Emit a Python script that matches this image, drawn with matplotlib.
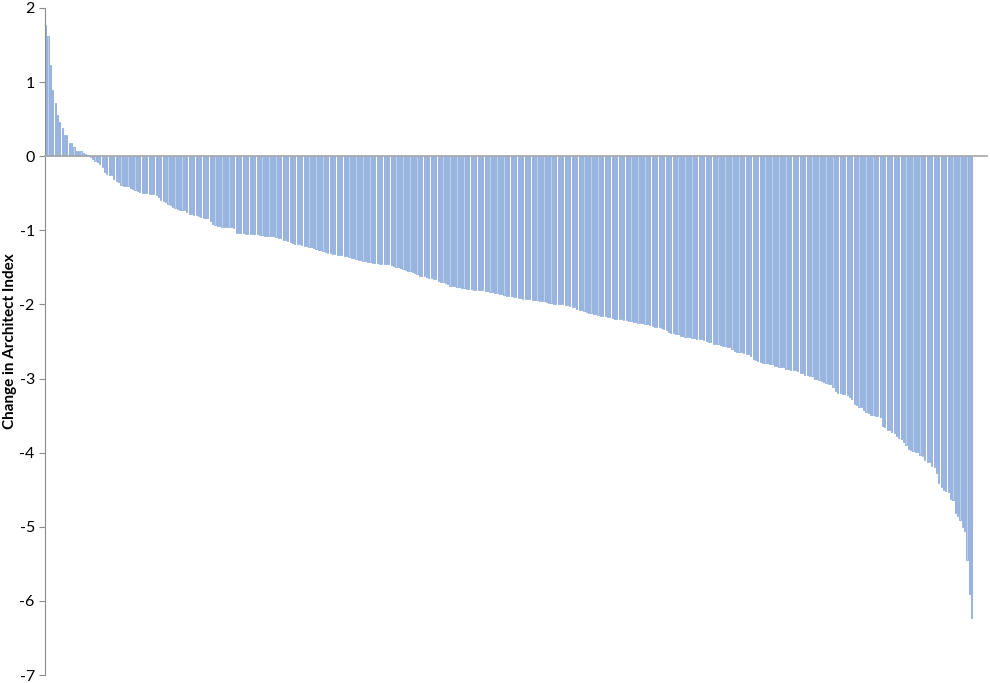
import matplotlib.pyplot as plt
import numpy as np

plt.rcParams['axes.unicode_minus'] = False
plt.rcParams['font.family'] = ['Lato', 'DejaVu Sans']

# change in index per item, sorted from largest to smallest
positive_vals = [1.77, 1.62, 1.23, 0.90, 0.72, 0.555, 0.46, 0.38, 0.29, 0.28,
                 0.175, 0.175, 0.125, 0.077, 0.072, 0.068, 0.05, 0.03, 0.01]
negative_vals = [
    -0.01, -0.04, -0.06, -0.08, -0.11, -0.15, -0.21, -0.24, -0.25, -0.26,
    -0.31, -0.33, -0.35, -0.39, -0.40, -0.40, -0.405, -0.43, -0.44, -0.45,
    -0.47, -0.48, -0.49, -0.495, -0.50, -0.505, -0.51, -0.51, -0.53, -0.55,
    -0.59, -0.60, -0.62, -0.64, -0.66, -0.69, -0.70, -0.715, -0.72, -0.72,
    -0.72, -0.75, -0.78, -0.785, -0.79, -0.795, -0.80, -0.82, -0.83, -0.84,
    -0.84, -0.88, -0.91, -0.93, -0.94, -0.945, -0.95, -0.95, -0.955, -0.96,
    -0.96, -0.97, -1.03, -1.035, -1.04, -1.04, -1.045, -1.045, -1.045, -1.05,
    -1.05, -1.05, -1.06, -1.065, -1.07, -1.07, -1.075, -1.08, -1.08, -1.09,
    -1.10, -1.11, -1.125, -1.135, -1.15, -1.16, -1.17, -1.18, -1.185, -1.19,
    -1.20, -1.21, -1.215, -1.225, -1.23, -1.24, -1.25, -1.26, -1.27, -1.28,
    -1.29, -1.30, -1.31, -1.315, -1.325, -1.33, -1.335, -1.335, -1.34, -1.35,
    -1.355, -1.37, -1.375, -1.39, -1.40, -1.405, -1.41, -1.42, -1.425, -1.43,
    -1.435, -1.44, -1.445, -1.45, -1.45, -1.45, -1.455, -1.46, -1.465, -1.48,
    -1.49, -1.50, -1.51, -1.52, -1.53, -1.545, -1.55, -1.565, -1.58, -1.59,
    -1.61, -1.615, -1.62, -1.63, -1.64, -1.645, -1.655, -1.66, -1.69, -1.695,
    -1.70, -1.705, -1.72, -1.745, -1.75, -1.755, -1.76, -1.77, -1.775, -1.78,
    -1.785, -1.79, -1.795, -1.80, -1.80, -1.80, -1.805, -1.81, -1.815, -1.825,
    -1.83, -1.835, -1.84, -1.845, -1.855, -1.865, -1.87, -1.88, -1.885, -1.89,
    -1.90, -1.905, -1.91, -1.915, -1.92, -1.925, -1.93, -1.93, -1.935, -1.94,
    -1.945, -1.95, -1.955, -1.96, -1.97, -1.975, -1.98, -1.99, -1.995, -2.00,
    -2.00, -2.00, -2.005, -2.01, -2.015, -2.03, -2.04, -2.055, -2.07, -2.08,
    -2.09, -2.10, -2.11, -2.12, -2.13, -2.135, -2.145, -2.155, -2.16, -2.16,
    -2.165, -2.17, -2.18, -2.19, -2.195, -2.20, -2.20, -2.21, -2.215, -2.22,
    -2.23, -2.235, -2.24, -2.245, -2.25, -2.255, -2.26, -2.27, -2.28, -2.29,
    -2.30, -2.305, -2.31, -2.32, -2.33, -2.35, -2.37, -2.38, -2.39, -2.395,
    -2.40, -2.42, -2.43, -2.435, -2.44, -2.445, -2.45, -2.455, -2.46, -2.465,
    -2.47, -2.48, -2.49, -2.50, -2.51, -2.53, -2.535, -2.54, -2.55, -2.56,
    -2.565, -2.57, -2.58, -2.60, -2.63, -2.635, -2.64, -2.64, -2.65, -2.665,
    -2.67, -2.69, -2.74, -2.75, -2.76, -2.78, -2.785, -2.79, -2.79, -2.80,
    -2.81, -2.825, -2.83, -2.84, -2.845, -2.85, -2.865, -2.87, -2.88, -2.885,
    -2.89, -2.90, -2.92, -2.93, -2.95, -2.955, -2.96, -2.97, -3.00, -3.01,
    -3.02, -3.03, -3.05, -3.06, -3.07, -3.08, -3.12, -3.17, -3.19, -3.20,
    -3.21, -3.21, -3.22, -3.25, -3.28, -3.34, -3.36, -3.38, -3.39, -3.42,
    -3.45, -3.47, -3.49, -3.49, -3.50, -3.51, -3.52, -3.64, -3.66, -3.69,
    -3.70, -3.72, -3.73, -3.78, -3.80, -3.81, -3.85, -3.89, -3.945, -3.96,
    -3.98, -3.99, -3.99, -4.03, -4.04, -4.10, -4.12, -4.13, -4.18, -4.20,
    -4.28, -4.41, -4.46, -4.51, -4.52, -4.53, -4.63, -4.64, -4.82, -4.86,
    -4.91, -5.00, -5.06, -5.45, -5.91, -6.23,
]
values = positive_vals + negative_vals
y_ticks = list(range(-7, 3))

fig = plt.figure(figsize=(9.9, 6.83), dpi=100)
ax = fig.add_axes([0.045, 0.0117, 0.952, 0.9766])

x = np.arange(len(values))
ax.bar(x, values, width=0.5, color='#BCD0EE', edgecolor='#7B9FD5', linewidth=0.5)

ax.set_ylim(-7, 2)
ax.set_xlim(-0.5, 400.5)
ax.set_yticks(y_ticks)
ax.set_yticklabels([str(t) for t in y_ticks], fontsize=11.5)
ax.set_xticks([])

for side in ['top', 'right']:
    ax.spines[side].set_visible(False)
ax.spines['left'].set_color('#8C8C8C')
ax.spines['bottom'].set_position(('data', 0))
ax.spines['bottom'].set_color('#A6A6A6')
ax.spines['bottom'].set_linewidth(1.2)
ax.tick_params(axis='y', length=4, color='#8C8C8C', pad=3)

ax.set_ylabel('Change in Architect Index', fontsize=11, fontweight='bold')
ax.yaxis.set_label_coords(-0.0295, 0.50)

fig.savefig('out.png', dpi=100)
